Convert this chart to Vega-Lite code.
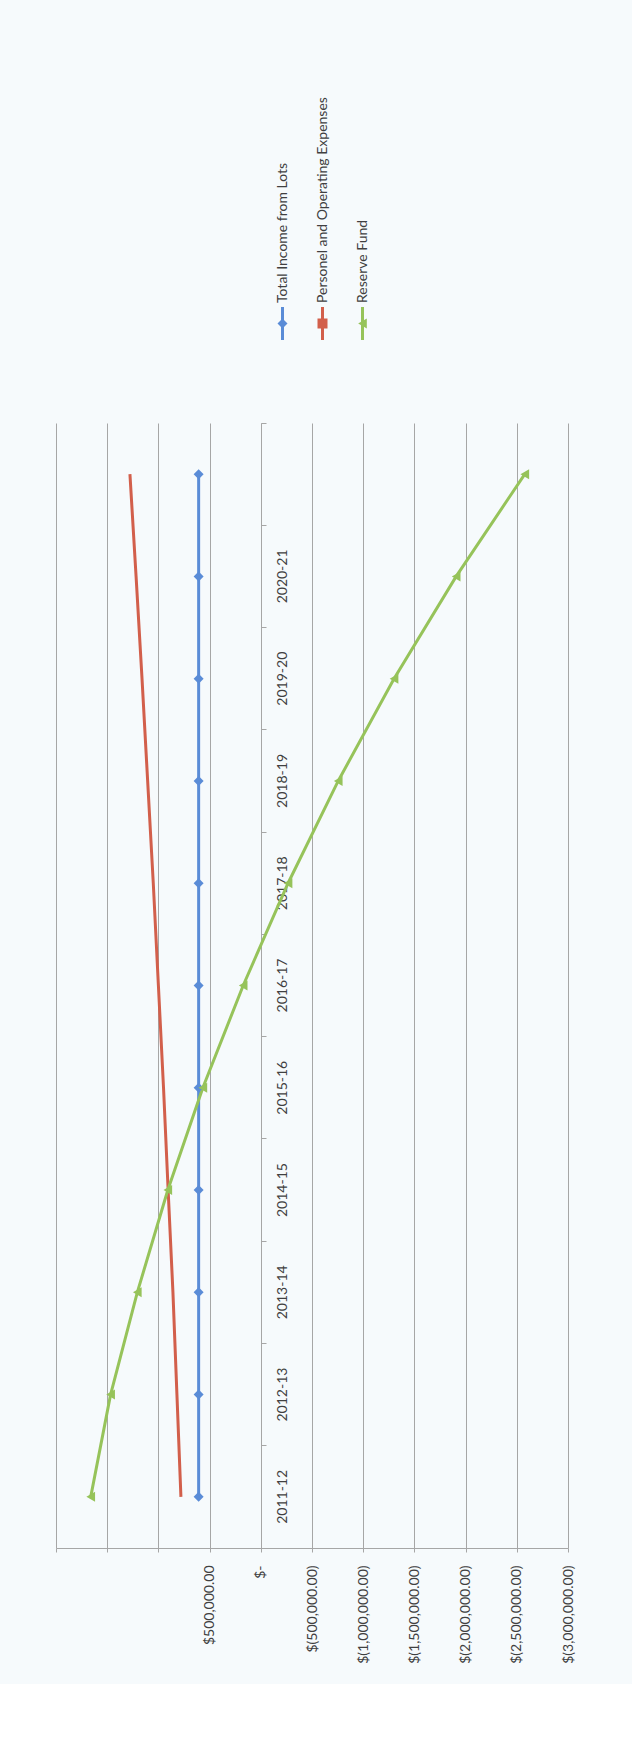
{
  "$schema": "https://vega.github.io/schema/vega-lite/v6.json",
  "background": "#f6fafc",
  "padding": {"left": 55, "top": 40, "right": 65, "bottom": 20},
  "config": {"view": {"stroke": null}, "font": "Lato"},
  "datasets": {
    "legend": [
      {"series": "Total Income from Lots"},
      {"series": "Personel and Operating Expenses"},
      {"series": "Reserve Fund"}
    ],
    "series": [
      {"year": "2011-12", "series": "Total Income from Lots", "value": 607000},
      {"year": "2012-13", "series": "Total Income from Lots", "value": 607000},
      {"year": "2013-14", "series": "Total Income from Lots", "value": 607000},
      {"year": "2014-15", "series": "Total Income from Lots", "value": 607000},
      {"year": "2015-16", "series": "Total Income from Lots", "value": 607000},
      {"year": "2016-17", "series": "Total Income from Lots", "value": 607000},
      {"year": "2017-18", "series": "Total Income from Lots", "value": 607000},
      {"year": "2018-19", "series": "Total Income from Lots", "value": 607000},
      {"year": "2019-20", "series": "Total Income from Lots", "value": 607000},
      {"year": "2020-21", "series": "Total Income from Lots", "value": 607000},
      {"year": "2021-22", "series": "Total Income from Lots", "value": 607000},
      {"year": "2011-12", "series": "Personel and Operating Expenses", "value": 780000},
      {"year": "2012-13", "series": "Personel and Operating Expenses", "value": 819000},
      {"year": "2013-14", "series": "Personel and Operating Expenses", "value": 858000},
      {"year": "2014-15", "series": "Personel and Operating Expenses", "value": 905000},
      {"year": "2015-16", "series": "Personel and Operating Expenses", "value": 950000},
      {"year": "2016-17", "series": "Personel and Operating Expenses", "value": 1000000},
      {"year": "2017-18", "series": "Personel and Operating Expenses", "value": 1050000},
      {"year": "2018-19", "series": "Personel and Operating Expenses", "value": 1105000},
      {"year": "2019-20", "series": "Personel and Operating Expenses", "value": 1160000},
      {"year": "2020-21", "series": "Personel and Operating Expenses", "value": 1218000},
      {"year": "2021-22", "series": "Personel and Operating Expenses", "value": 1278000},
      {"year": "2011-12", "series": "Reserve Fund", "value": 1661000},
      {"year": "2012-13", "series": "Reserve Fund", "value": 1467000},
      {"year": "2013-14", "series": "Reserve Fund", "value": 1206000},
      {"year": "2014-15", "series": "Reserve Fund", "value": 908000},
      {"year": "2015-16", "series": "Reserve Fund", "value": 566000},
      {"year": "2016-17", "series": "Reserve Fund", "value": 172000},
      {"year": "2017-18", "series": "Reserve Fund", "value": -266000},
      {"year": "2018-19", "series": "Reserve Fund", "value": -756000},
      {"year": "2019-20", "series": "Reserve Fund", "value": -1301000},
      {"year": "2020-21", "series": "Reserve Fund", "value": -1908000},
      {"year": "2021-22", "series": "Reserve Fund", "value": -2578000}
    ]
  },
  "spacing": 80,
  "center": true,
  "vconcat": [
    {
      "width": 120,
      "height": 300,
      "data": {"name": "legend"},
      "encoding": {
        "x": {"field": "series", "type": "nominal", "axis": null,
          "scale": {"type": "point", "domain": ["Total Income from Lots", "Personel and Operating Expenses", "Reserve Fund"], "padding": 0.5, "align": 0.675}},
        "color": {"field": "series", "type": "nominal", "legend": null,
          "scale": {"domain": ["Total Income from Lots", "Personel and Operating Expenses", "Reserve Fund"], "range": ["#5A8CD7", "#D25F4B", "#96C35A"]}}
      },
      "layer": [
        {
          "mark": {"type": "rule", "strokeWidth": 3},
          "encoding": {
            "y": {"datum": 0, "type": "quantitative", "scale": {"domain": [0, 30]}, "axis": null},
            "y2": {"datum": 3.3}
          }
        },
        {
          "mark": {"type": "point", "filled": true, "size": 100, "opacity": 1},
          "encoding": {
            "y": {"datum": 1.65, "type": "quantitative", "axis": null},
            "shape": {"field": "series", "type": "nominal", "legend": null,
              "scale": {"domain": ["Total Income from Lots", "Personel and Operating Expenses", "Reserve Fund"], "range": ["diamond", "square", "triangle-left"]}}
          }
        },
        {
          "mark": {"type": "text", "angle": 270, "align": "left", "baseline": "middle", "fontSize": 14, "font": "Lato"},
          "encoding": {
            "y": {"datum": 3.7, "type": "quantitative", "axis": null},
            "text": {"field": "series"},
            "color": {"value": "#404040"}
          }
        }
      ]
    },
    {
      "width": 512,
      "height": 1125,
      "data": {"name": "series"},
      "encoding": {
        "x": {"field": "value", "type": "quantitative",
          "scale": {"domain": [-3000000, 2000000], "reverse": true, "nice": false, "zero": false},
          "axis": {
            "orient": "bottom", "title": null,
            "values": [-3000000, -2500000, -2000000, -1500000, -1000000, -500000, 0, 500000, 1000000, 1500000, 2000000],
            "labelExpr": "datum.value > 500000 ? '' : datum.value == 0 ? '$-\u00a0\u00a0\u00a0\u00a0\u00a0' : datum.value < 0 ? '$(' + format(-datum.value, ',.2f') + ')' : '$' + format(datum.value, ',.2f') + '\u00a0'",
            "labelAngle": -90, "labelFontSize": 14, "labelFont": "Lato", "labelColor": "#404040", "labelPadding": 13,
            "grid": true, "gridColor": "#a6a6a6", "gridWidth": 1,
            "domainColor": "#a6a6a6", "tickColor": "#a6a6a6", "tickSize": 4
          }
        },
        "y": {"field": "year", "type": "ordinal", "sort": "descending",
          "scale": {"type": "band", "paddingInner": 0, "paddingOuter": 0},
          "axis": {
            "orient": "right", "offset": -307, "title": null, "domain": false, "ticks": false, "tickSize": 0, "grid": false,
            "labelAngle": -90, "labelAlign": "center", "labelBaseline": "middle", "labelPadding": 21,
            "labelFontSize": 14, "labelFont": "Lato", "labelColor": "#404040",
            "labelExpr": "datum.value == '2021-22' ? '' : datum.value"
          }
        },
        "color": {"field": "series", "type": "nominal", "legend": null,
          "scale": {"domain": ["Total Income from Lots", "Personel and Operating Expenses", "Reserve Fund"], "range": ["#5A8CD7", "#D25F4B", "#96C35A"]}},
        "order": {"field": "year", "type": "ordinal"}
      },
      "layer": [
        {
          "mark": {"type": "line", "strokeWidth": 3}
        },
        {
          "transform": [{"filter": "datum.series != 'Personel and Operating Expenses'"}],
          "mark": {"type": "point", "filled": true, "size": 100, "opacity": 1},
          "encoding": {
            "y": {"field": "year", "type": "ordinal", "sort": "descending",
              "axis": {
                "orient": "right", "offset": -307, "title": null, "labels": false, "ticks": true, "tickSize": 5,
                "bandPosition": 0, "domain": true, "domainColor": "#a6a6a6", "tickColor": "#a6a6a6", "grid": false
              }
            },
            "shape": {"field": "series", "type": "nominal", "legend": null,
              "scale": {"domain": ["Total Income from Lots", "Reserve Fund"], "range": ["diamond", "triangle-left"]}}
          }
        }
      ],
      "resolve": {"axis": {"y": "independent"}}
    }
  ]
}
